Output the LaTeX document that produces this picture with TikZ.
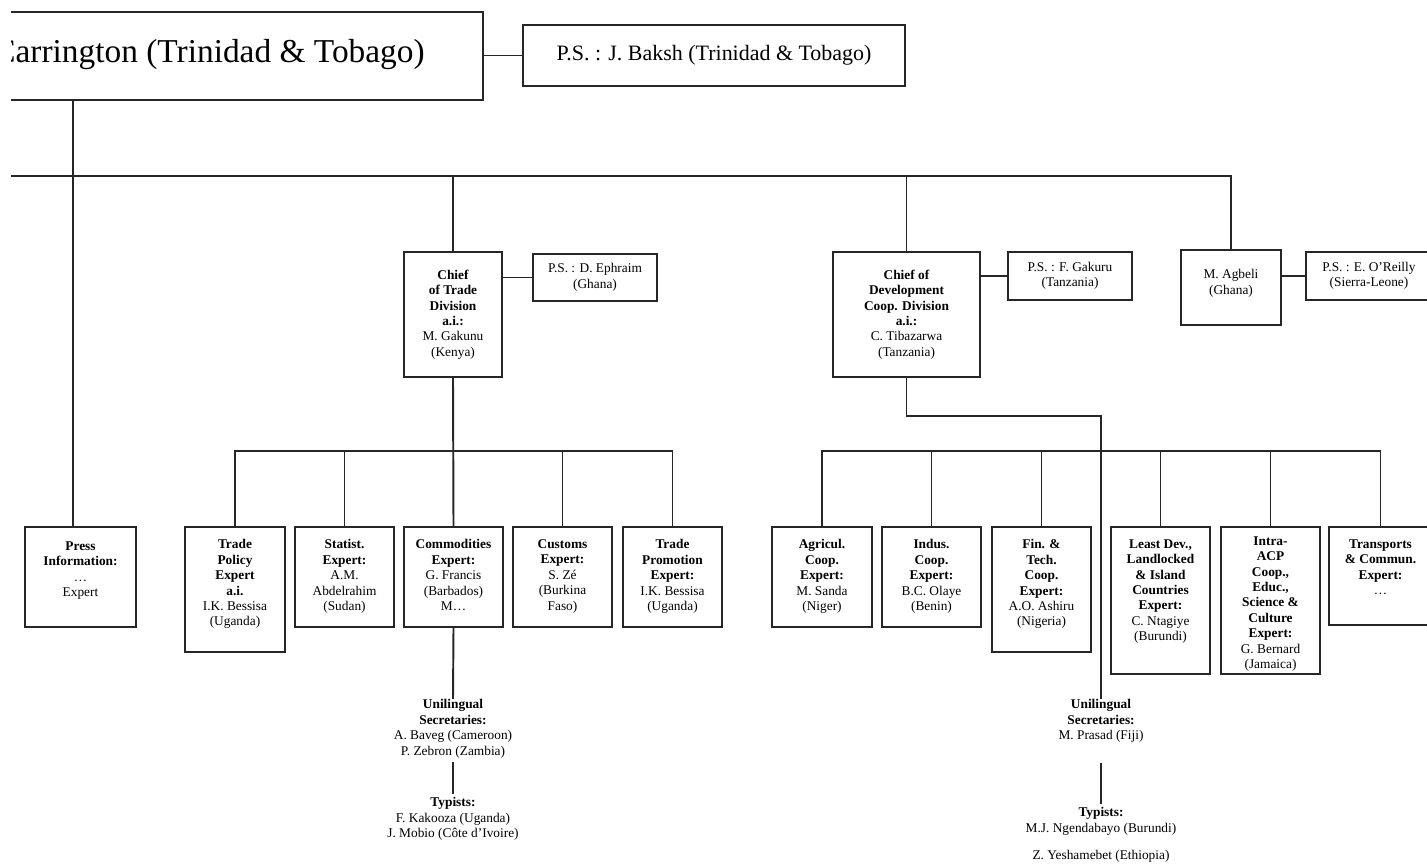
\documentclass[tikz,border=0pt]{standalone}
\usepackage{fontspec}
\setmainfont{Liberation Serif}
\usetikzlibrary{calc,fit}
\newcommand{\orgfont}{\fontsize{7.6}{8.8}\selectfont}
% unit box from (left,top) to (right,bottom), text hung from the top
\newcommand{\orgunit}[7][13]{%
  \node[unit, fit={(#3,#4) (#5,#6)}] (#2) {};
  \node[unittext, anchor=north] (#2-t) at ($(#2.north)+(0,#1)$) {#7};}
% same, text in the middle
\newcommand{\orgcentre}[6]{%
  \node[unit, fit={(#2,#3) (#4,#5)}] (#1) {};
  \node[unittext] (#1-t) at (#1.center) {#6};}
\tikzset{
  unit/.style={draw=black!85, line width=1.1pt, inner sep=0pt},
  unittext/.style={inner sep=0pt, align=center, font=\orgfont},
  link/.style={draw=black!85, line width=1.1pt},
}

\begin{document}
\begin{tikzpicture}[x=0.02cm, y=-0.02cm]
			\useasboundingbox (0,0) rectangle (1427,864);
			\clip (11,-5) rectangle (1427,870);
			
			%%%%% TOP %%%%%
			\node[unit, line width=1.5pt, fit={(-40,12) (483,100)}] (sg) {};
			\node[anchor=base west, inner sep=0pt, font=\fontsize{19}{22}\selectfont] (sg-t) at (-7,63) {Carrington (Trinidad \& Tobago)};
			\node[unit, fit={(523,25) (905,86)}] (sgps) {};
			\node[inner sep=0pt, font=\fontsize{12.5}{15}\selectfont] (sgps-t) at (sgps.center) {P.S. : J. Baksh (Trinidad \& Tobago)};
			\draw[link] (sgps.west) -- (sgps.west -| sg.east);
			
			\coordinate (bus) at (0,176);
			\coordinate (pressin) at (73,527);
			\draw[link] (pressin |- sg.south) -- (pressin);
			
			%%%%% DIVISIONS %%%%%
			\orgcentre{trade}{404}{252}{502}{377}{\textbf{Chief}\\\textbf{of Trade}\\\textbf{Division}\\\textbf{a.i.:}\\M. Gakunu\\(Kenya)}
			\orgcentre{tradeps}{533}{254}{657}{301}{P.S. : D. Ephraim\\(Ghana)}
			\orgcentre{dev}{833}{252}{980}{377}{\textbf{Chief of}\\\textbf{Development}\\\textbf{Coop. Division}\\\textbf{a.i.:}\\C. Tibazarwa\\(Tanzania)}
			\orgcentre{devps}{1008}{252}{1132}{300}{P.S. : F. Gakuru\\(Tanzania)}
			\orgunit[20]{agbeli}{1181}{250}{1281}{325}{M. Agbeli\\(Ghana)}
			\orgcentre{agbelips}{1306}{252}{1432}{300}{P.S. : E. O'Reilly\\(Sierra-Leone)}
			
			\draw[link] (bus) -| (agbeli.north);
			\draw[link] (trade.north) -- (trade.north |- bus);
			\draw[link] (dev.north) -- (dev.north |- bus);
			\draw[link] (tradeps.west) -- (tradeps.west -| trade.east);
			\draw[link] (devps.west) -- (devps.west -| dev.east);
			\draw[link] (agbelips.west) -- (agbelips.west -| agbeli.east);
			
			%%%%% EXPERTS %%%%%
			\orgunit[15]{press}{25}{527}{136}{627}{\textbf{Press}\\\textbf{Information:}\\\dots\\Expert}
			
			\orgunit{trpol}{185}{527}{285}{652}{\textbf{Trade}\\\textbf{Policy}\\\textbf{Expert}\\\textbf{a.i.}\\I.K. Bessisa\\(Uganda)}
			\orgunit{stat}{295}{527}{394}{627}{\textbf{Statist.}\\\textbf{Expert:}\\A.M.\\Abdelrahim\\(Sudan)}
			\orgunit{comm}{404}{527}{503}{627}{\textbf{Commodities}\\\textbf{Expert:}\\G. Francis\\(Barbados)\\M\dots}
			\orgunit{cust}{513}{527}{612}{627}{\textbf{Customs}\\\textbf{Expert:}\\S. Zé\\(Burkina\\Faso)}
			\orgunit{prom}{623}{527}{722}{627}{\textbf{Trade}\\\textbf{Promotion}\\\textbf{Expert:}\\I.K. Bessisa\\(Uganda)}
			
			\orgunit{agri}{772}{527}{872}{627}{\textbf{Agricul.}\\\textbf{Coop.}\\\textbf{Expert:}\\M. Sanda\\(Niger)}
			\orgunit{indus}{882}{527}{981}{627}{\textbf{Indus.}\\\textbf{Coop.}\\\textbf{Expert:}\\B.C. Olaye\\(Benin)}
			\orgunit{fin}{992}{527}{1091}{652}{\textbf{Fin. \&}\\\textbf{Tech.}\\\textbf{Coop.}\\\textbf{Expert:}\\A.O. Ashiru\\(Nigeria)}
			\orgunit{least}{1111}{527}{1210}{674}{\textbf{Least Dev.,}\\\textbf{Landlocked}\\\textbf{\& Island}\\\textbf{Countries}\\\textbf{Expert:}\\C. Ntagiye\\(Burundi)}
			\orgunit[10]{intra}{1221}{527}{1320}{674}{\textbf{Intra-}\\\textbf{ACP}\\\textbf{Coop.,}\\\textbf{Educ.,}\\\textbf{Science \&}\\\textbf{Culture}\\\textbf{Expert:}\\G. Bernard\\(Jamaica)}
			\orgunit{tran}{1329}{527}{1432}{625}{\textbf{Transports}\\\textbf{\& Commun.}\\\textbf{Expert:}\\\dots}
			
			\coordinate (subbus) at (0,451);
			\draw[link] (trade.south) -- (comm.north);
			\draw[link] (trpol.north) |- (prom.north |- subbus) -- (prom.north);
			\foreach \n in {stat,cust}
				\draw[link] (\n.north) -- (\n.north |- subbus);
			
			\coordinate (devknee) at (1101,416);
			\draw[link] (agri.north) |- (tran.north |- subbus) -- (tran.north);
			\foreach \n in {indus,fin,least,intra}
				\draw[link] (\n.north) -- (\n.north |- subbus);
			
			%%%%% SECRETARIES %%%%%
			\node[unittext, anchor=north] (secl) at (453,699) {\textbf{Unilingual}\\\textbf{Secretaries:}\\A. Baveg (Cameroon)\\P. Zebron (Zambia)};
			\node[unittext, anchor=north] (typl) at (453,797) {\textbf{Typists:}\\F. Kakooza (Uganda)\\J. Mobio (Côte d'Ivoire)};
			\draw[link] (comm.south) -- (secl.north);
			\draw[link] ($(secl.south)+(0,4)$) -- ($(typl.north)+(0,-3)$);
			
			\node[unittext, anchor=north] (secr) at (1101,699) {\textbf{Unilingual}\\\textbf{Secretaries:}\\M. Prasad (Fiji)};
			\node[unittext, anchor=north] (typr) at (1101,807) {\textbf{Typists:}\\M.J. Ngendabayo (Burundi)\\[7pt]Z. Yeshamebet (Ethiopia)};
			\draw[link] (dev.south) |- (devknee) -- (secr.north);
			\draw[link] ($(secr.south)+(0,20)$) -- ($(typr.north)+(0,-3)$);
			
		\end{tikzpicture}
\end{document}
